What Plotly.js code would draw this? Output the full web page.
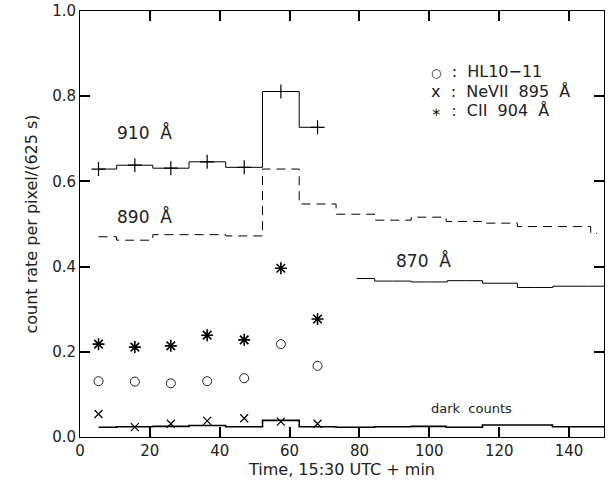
<!DOCTYPE html>
<html>
<head>
<meta charset="utf-8">
<script src="https://cdn.plot.ly/plotly-3.0.1.min.js"></script>
<style>html,body{margin:0;padding:0;background:#fff;}#chart{width:614px;height:488px;}</style>
</head>
<body>
<div id="chart"></div>
<script>
// Observation times (minutes after 15:30 UTC)
const tObs = [5.3, 15.7, 26.0, 36.4, 47.0, 57.5, 68.0];
const t890 = [5.3, 15.7, 26.0, 36.4, 47.0, 57.5, 68.0, 78.6, 90.0, 99.6, 110.0, 120.4, 130.0, 144.4, 148.0];
const t870 = [79.2, 89.5, 100.0, 110.3, 120.2, 130.2, 140.5, 150.0];
const tDark = [5.3, 15.7, 26.0, 36.4, 47.0, 57.5, 68.0, 78.6, 90.0, 99.6, 110.0, 120.4, 130.0, 140.5, 150.0];

// Continuum count rates
const v910 = [0.629, 0.638, 0.631, 0.646, 0.633, 0.811, 0.727];
const v890 = [0.470, 0.462, 0.475, 0.475, 0.472, 0.629, 0.547, 0.523, 0.509, 0.516, 0.506, 0.502, 0.494, 0.494, 0.478];
const v870 = [0.372, 0.366, 0.364, 0.367, 0.361, 0.351, 0.354, 0.354];
const vDark = [0.023, 0.024, 0.025, 0.027, 0.024, 0.039, 0.024, 0.023, 0.024, 0.025, 0.023, 0.028, 0.028, 0.024, 0.024];

// Line emissions
const vHL = [0.131, 0.130, 0.126, 0.131, 0.138, 0.218, 0.167];
const vNeVII = [0.054, 0.023, 0.031, 0.038, 0.044, 0.036, 0.031];
const vCII = [0.218, 0.211, 0.214, 0.239, 0.228, 0.396, 0.277];

// Labels
const xTitle = "Time, 15:30 UTC + min";
const yTitle = "count rate per pixel/(625 s)";
const lbl910 = "910\u00a0\u00a0Å", lbl890 = "890\u00a0\u00a0Å", lbl870 = "870\u00a0\u00a0Å", lblDark = "dark\u00a0\u00a0counts";
const legendLines = [
  "<span style='font-size:12px'>○</span>\u00a0\u00a0:\u00a0\u00a0HL10\u221211",
  "x\u00a0\u00a0:\u00a0\u00a0NeVII\u00a0\u00a0895\u00a0\u00a0Å",
  "<span style='font-size:12px'>∗</span>\u00a0\u00a0:\u00a0\u00a0CII\u00a0\u00a0904\u00a0\u00a0Å"
];

const FONT = "DejaVu Sans, Liberation Sans, sans-serif";
const txt = "#222";

const traces = [
  {x: t890, y: v890, mode: "lines", line: {shape: "hvh", color: "black", width: 1, dash: "9px,6px"}},
  {x: tObs, y: v910, mode: "lines+markers", line: {shape: "hvh", color: "black", width: 1},
   marker: {symbol: "cross-thin-open", size: 10, color: "black", line: {color: "black", width: 1.2}}},
  {x: t870, y: v870, mode: "lines", line: {shape: "hvh", color: "black", width: 1}},
  {x: tDark, y: vDark, mode: "lines", line: {shape: "hvh", color: "black", width: 1.6}},
  {x: tObs, y: vHL, mode: "markers", marker: {symbol: "circle-open", size: 9, color: "#222", line: {color: "#222", width: 1}}},
  {x: tObs, y: vNeVII, mode: "markers", marker: {symbol: "x-thin-open", size: 8, color: "black", line: {color: "black", width: 1.2}}},
  {x: tObs, y: vCII, mode: "markers", marker: {symbol: "asterisk-open", size: 10, color: "black", line: {color: "black", width: 1.6}}}
];

function ann(text, x, y, size) {
  return {text: text, x: x, y: y, xref: "x", yref: "y", xanchor: "left", yanchor: "middle",
          showarrow: false, font: {family: FONT, size: size, color: txt}};
}

const annotations = [
  ann(lbl910, 10, 0.714, 17),
  ann(lbl890, 10, 0.517, 17),
  ann(lbl870, 90, 0.415, 17),
  ann(lblDark, 100, 0.066, 13),
  ann(legendLines[0], 100, 0.857, 16),
  ann(legendLines[1], 100, 0.811, 16),
  ann(legendLines[2], 100, 0.766, 16)
];

const layout = {
  width: 614, height: 488,
  margin: {l: 80, r: 10, t: 11, b: 51},
  showlegend: false,
  xaxis: {
    range: [0, 150], showline: true, mirror: "allticks", linecolor: "black",
    ticks: "inside", ticklen: 10, tickwidth: 1.5, tickcolor: "black", showgrid: false,
    dtick: 20,
    tickfont: {family: FONT, size: 15, color: txt},
    title: {text: xTitle, font: {family: FONT, size: 16, color: txt}, standoff: 4}
  },
  yaxis: {
    range: [0, 1], showline: true, mirror: "allticks", linecolor: "black",
    ticks: "inside", ticklen: 10, tickwidth: 1.5, tickcolor: "black", showgrid: false,
    dtick: 0.2, tickformat: ".1f",
    tickfont: {family: FONT, size: 15, color: txt},
    title: {text: yTitle, font: {family: FONT, size: 16, color: txt}, standoff: 10}
  },
  annotations: annotations
};

Plotly.newPlot("chart", traces, layout, {displayModeBar: false});
</script>
</body>
</html>
